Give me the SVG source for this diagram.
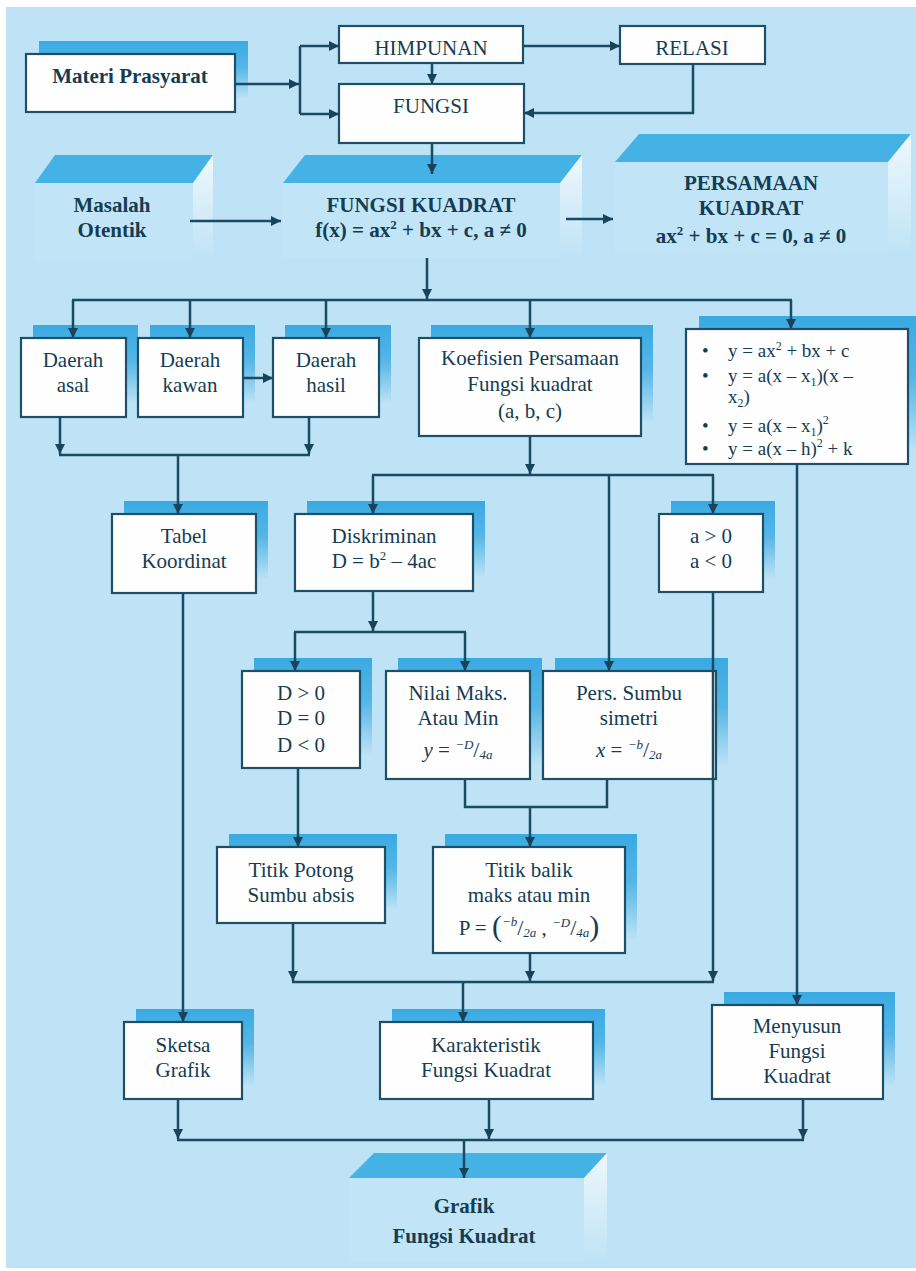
<svg xmlns="http://www.w3.org/2000/svg" width="916" height="1271" viewBox="0 0 916 1271">
<defs>
<linearGradient id="shg" x1="0" y1="0" x2="0" y2="1">
<stop offset="0" stop-color="#3aaae2" stop-opacity="1"/>
<stop offset="0.45" stop-color="#3aaae2" stop-opacity="0.8"/>
<stop offset="1" stop-color="#3aaae2" stop-opacity="0"/>
</linearGradient>
<linearGradient id="sideg" x1="0" y1="0" x2="0" y2="1">
<stop offset="0" stop-color="#ffffff" stop-opacity="0.75"/>
<stop offset="1" stop-color="#ffffff" stop-opacity="0"/>
</linearGradient>
<marker id="ah" viewBox="0 0 10 10" refX="10" refY="5" markerWidth="10" markerHeight="10" markerUnits="userSpaceOnUse" orient="auto">
<path d="M0,0 L10,5 L0,10 z" fill="#17435b"/>
</marker>
<style>
.bx{fill:#fefefe;stroke:#1e4f68;stroke-width:2.2}
.sh{fill:url(#shg)}
.t{font-family:"Liberation Serif","Times New Roman",serif;font-size:21px;fill:#153c52;text-anchor:middle}
.tl{font-family:"Liberation Serif","Times New Roman",serif;font-size:19px;fill:#153c52}
.b{font-weight:bold}
.cn{fill:none;stroke:#1b4a63;stroke-width:2.5}
.ar{marker-end:url(#ah)}
.topf{fill:#45b2e5}
.side{fill:url(#sideg)}
.front{fill:#c9ebf9;opacity:0.3}
.i{font-style:italic}
</style>
</defs>
<rect x="0" y="0" width="916" height="1271" fill="#ffffff"/>
<rect x="6" y="7" width="910" height="1261" fill="#bee3f6"/>

<g id="n-materi">
<rect class="sh" x="39" y="41" width="209" height="58"/>
<rect class="bx" x="26" y="54" width="209" height="58"/>
<text class="t b" x="130" y="83">Materi Prasyarat</text>
</g>
<g id="n-himpunan">
<rect class="bx" x="339" y="26" width="184" height="37"/>
<text class="t" x="431" y="55">HIMPUNAN</text>
</g>
<g id="n-relasi">
<rect class="bx" x="620" y="26" width="145" height="38"/>
<text class="t" x="692" y="55">RELASI</text>
</g>
<g id="n-fungsi">
<rect class="bx" x="339" y="84" width="185" height="59"/>
<text class="t" x="431" y="113">FUNGSI</text>
</g>

<g id="n-masalah">
<rect class="front" x="35" y="183" width="158" height="77"/>
<polygon class="topf" points="55,155 213,155 193,183 35,183"/>
<polygon class="side" points="193,183 213,155 213,260 193,260"/>
<text class="t b" x="112" y="212">Masalah</text>
<text class="t b" x="112" y="237">Otentik</text>
</g>
<g id="n-fk">
<rect class="front" x="283" y="183" width="277" height="75"/>
<polygon class="topf" points="305,155 582,155 560,183 283,183"/>
<polygon class="side" points="560,183 582,155 582,258 560,258"/>
<text class="t b" x="421" y="212">FUNGSI KUADRAT</text>
<text class="t b" x="421" y="237">f(x) = ax<tspan font-size="13" dy="-8">2</tspan><tspan dy="8"> + bx + c, a ≠ 0</tspan></text>
</g>
<g id="n-pk">
<rect class="front" x="615" y="162" width="273" height="93"/>
<polygon class="topf" points="639,134 911,134 888,162 615,162"/>
<polygon class="side" points="888,162 911,134 911,255 888,255"/>
<text class="t b" x="751" y="190">PERSAMAAN</text>
<text class="t b" x="751" y="215">KUADRAT</text>
<text class="t b" x="751" y="243">ax<tspan font-size="13" dy="-8">2</tspan><tspan dy="8"> + bx + c = 0, a ≠ 0</tspan></text>
</g>

<g id="n-asal">
<rect class="sh" x="33" y="325" width="105" height="79"/>
<rect class="bx" x="21" y="338" width="105" height="79"/>
<text class="t" x="73" y="367">Daerah</text>
<text class="t" x="73" y="392">asal</text>
</g>
<g id="n-kawan">
<rect class="sh" x="150" y="325" width="105" height="79"/>
<rect class="bx" x="138" y="338" width="105" height="79"/>
<text class="t" x="190" y="367">Daerah</text>
<text class="t" x="190" y="392">kawan</text>
</g>
<g id="n-hasil">
<rect class="sh" x="285" y="325" width="106" height="79"/>
<rect class="bx" x="273" y="338" width="106" height="79"/>
<text class="t" x="326" y="367">Daerah</text>
<text class="t" x="326" y="392">hasil</text>
</g>
<g id="n-koef">
<rect class="sh" x="431" y="325" width="222" height="98"/>
<rect class="bx" x="419" y="338" width="222" height="98"/>
<text class="t" x="530" y="365">Koefisien Persamaan</text>
<text class="t" x="530" y="391">Fungsi kuadrat</text>
<text class="t" x="530" y="418">(a, b, c)</text>
</g>
<g id="n-bentuk">
<rect class="sh" x="699" y="316" width="217" height="135"/>
<rect class="bx" x="686" y="329" width="222" height="135"/>
<text class="tl" x="702" y="357">•</text>
<text class="tl" x="728" y="357">y  = ax<tspan font-size="12" dy="-7">2</tspan><tspan dy="7"> + bx + c</tspan></text>
<text class="tl" x="702" y="382">•</text>
<text class="tl" x="728" y="382">y  = a(x – x<tspan font-size="12" dy="4">1</tspan><tspan dy="-4">)(x –</tspan></text>
<text class="tl" x="728" y="403">x<tspan font-size="12" dy="4">2</tspan><tspan dy="-4">)</tspan></text>
<text class="tl" x="702" y="432">•</text>
<text class="tl" x="728" y="432">y = a(x – x<tspan font-size="12" dy="4">1</tspan><tspan dy="-4">)</tspan><tspan font-size="12" dy="-8">2</tspan></text>
<text class="tl" x="702" y="455">•</text>
<text class="tl" x="728" y="455">y = a(x – h)<tspan font-size="12" dy="-8">2</tspan><tspan dy="8"> + k</tspan></text>
</g>

<g id="n-tabel">
<rect class="sh" x="124" y="501" width="144" height="79"/>
<rect class="bx" x="112" y="514" width="144" height="79"/>
<text class="t" x="184" y="543">Tabel</text>
<text class="t" x="184" y="568">Koordinat</text>
</g>
<g id="n-disk">
<rect class="sh" x="307" y="501" width="178" height="77"/>
<rect class="bx" x="295" y="514" width="178" height="77"/>
<text class="t" x="384" y="543">Diskriminan</text>
<text class="t" x="384" y="568">D = b<tspan font-size="13" dy="-8">2</tspan><tspan dy="8"> – 4ac</tspan></text>
</g>
<g id="n-a">
<rect class="sh" x="671" y="501" width="104" height="78"/>
<rect class="bx" x="659" y="514" width="104" height="78"/>
<text class="t" x="711" y="543">a &gt; 0</text>
<text class="t" x="711" y="568">a &lt; 0</text>
</g>

<g id="n-dsign">
<rect class="sh" x="254" y="658" width="118" height="97"/>
<rect class="bx" x="242" y="671" width="118" height="97"/>
<text class="t" x="301" y="700">D &gt; 0</text>
<text class="t" x="301" y="725">D = 0</text>
<text class="t" x="301" y="752">D &lt; 0</text>
</g>
<g id="n-nilai">
<rect class="sh" x="398" y="658" width="144" height="108"/>
<rect class="bx" x="386" y="671" width="144" height="108"/>
<text class="t" x="458" y="700">Nilai Maks.</text>
<text class="t" x="458" y="725">Atau Min</text>
<text class="t" x="458" y="757"><tspan class="i">y</tspan> = <tspan class="i" font-size="13" dy="-8">−D</tspan><tspan font-size="22" dy="8">/</tspan><tspan class="i" font-size="13" dy="2">4a</tspan></text>
</g>
<g id="n-pers">
<rect class="sh" x="555" y="658" width="173" height="108"/>
<rect class="bx" x="543" y="671" width="173" height="108"/>
<text class="t" x="629" y="700">Pers. Sumbu</text>
<text class="t" x="629" y="725">simetri</text>
<text class="t" x="629" y="757"><tspan class="i">x</tspan> = <tspan class="i" font-size="13" dy="-8">−b</tspan><tspan font-size="22" dy="8">/</tspan><tspan class="i" font-size="13" dy="2">2a</tspan></text>
</g>

<g id="n-potong">
<rect class="sh" x="229" y="834" width="168" height="76"/>
<rect class="bx" x="217" y="847" width="168" height="76"/>
<text class="t" x="301" y="877">Titik Potong</text>
<text class="t" x="301" y="902">Sumbu absis</text>
</g>
<g id="n-balik">
<rect class="sh" x="445" y="834" width="192" height="106"/>
<rect class="bx" x="433" y="847" width="192" height="106"/>
<text class="t" x="529" y="877">Titik balik</text>
<text class="t" x="529" y="902">maks atau min</text>
<text class="t" x="529" y="935">P = <tspan font-size="30" dy="1">(</tspan><tspan class="i" font-size="13" dy="-10">−b</tspan><tspan font-size="22" dy="9">/</tspan><tspan class="i" font-size="13" dy="2">2a</tspan><tspan dy="-2"> , </tspan><tspan class="i" font-size="13" dy="-8">−D</tspan><tspan font-size="22" dy="8">/</tspan><tspan class="i" font-size="13" dy="2">4a</tspan><tspan font-size="30" dy="-1">)</tspan></text>
</g>

<g id="n-sketsa">
<rect class="sh" x="136" y="1009" width="118" height="77"/>
<rect class="bx" x="124" y="1022" width="118" height="77"/>
<text class="t" x="183" y="1052">Sketsa</text>
<text class="t" x="183" y="1077">Grafik</text>
</g>
<g id="n-karak">
<rect class="sh" x="392" y="1009" width="213" height="77"/>
<rect class="bx" x="380" y="1022" width="213" height="77"/>
<text class="t" x="486" y="1052">Karakteristik</text>
<text class="t" x="486" y="1077">Fungsi Kuadrat</text>
</g>
<g id="n-menyusun">
<rect class="sh" x="724" y="992" width="171" height="94"/>
<rect class="bx" x="712" y="1005" width="171" height="94"/>
<text class="t" x="797" y="1033">Menyusun</text>
<text class="t" x="797" y="1058">Fungsi</text>
<text class="t" x="797" y="1083">Kuadrat</text>
</g>

<g id="n-grafik">
<rect class="front" x="349" y="1178" width="235" height="84"/>
<polygon class="topf" points="374,1153 607,1153 584,1178 349,1178"/>
<polygon class="side" points="584,1178 607,1153 607,1262 584,1262"/>
<text class="t b" x="464" y="1213" font-size="24">Grafik</text>
<text class="t b" x="464" y="1243" font-size="24">Fungsi Kuadrat</text>
</g>

<g id="connectors">
<path class="cn ar" d="M235,84 H299"/>
<path class="cn" d="M300,46 V114"/>
<path class="cn ar" d="M300,46 H339"/>
<path class="cn ar" d="M300,114 H339"/>
<path class="cn ar" d="M432,63 V84"/>
<path class="cn ar" d="M523,46 H620"/>
<path class="cn ar" d="M693,64 V113 H524"/>
<path class="cn ar" d="M432,143 V174"/>
<path class="cn ar" d="M190,221 H281"/>
<path class="cn ar" d="M566,219 H613"/>
<path class="cn ar" d="M427,258 V299"/>
<path class="cn" d="M72,300 H792"/>
<path class="cn ar" d="M73,300 V338"/>
<path class="cn ar" d="M190,300 V338"/>
<path class="cn ar" d="M326,300 V338"/>
<path class="cn ar" d="M530,300 V338"/>
<path class="cn ar" d="M791,300 V329"/>
<path class="cn ar" d="M243,378 H273"/>
<path class="cn ar" d="M60,417 V454"/>
<path class="cn ar" d="M309,417 V454"/>
<path class="cn" d="M59,455 H310"/>
<path class="cn ar" d="M178,455 V514"/>
<path class="cn ar" d="M530,436 V474"/>
<path class="cn" d="M372,475 H714"/>
<path class="cn ar" d="M373,475 V514"/>
<path class="cn ar" d="M609,475 V671"/>
<path class="cn ar" d="M713,475 V514"/>
<path class="cn ar" d="M797,464 V1005"/>
<path class="cn ar" d="M373,591 V631"/>
<path class="cn" d="M294,632 H466"/>
<path class="cn ar" d="M295,632 V671"/>
<path class="cn ar" d="M465,632 V671"/>
<path class="cn ar" d="M298,768 V847"/>
<path class="cn" d="M465,779 V807 H607 V779"/>
<path class="cn ar" d="M530,807 V847"/>
<path class="cn ar" d="M713,592 V981"/>
<path class="cn ar" d="M293,923 V981"/>
<path class="cn ar" d="M530,953 V981"/>
<path class="cn" d="M292,982 H714"/>
<path class="cn ar" d="M463,982 V1022"/>
<path class="cn ar" d="M183,593 V1022"/>
<path class="cn ar" d="M178,1099 V1139"/>
<path class="cn ar" d="M489,1099 V1139"/>
<path class="cn ar" d="M803,1099 V1139"/>
<path class="cn" d="M177,1140 H804"/>
<path class="cn ar" d="M464,1140 V1178"/>
</g>
</svg>
